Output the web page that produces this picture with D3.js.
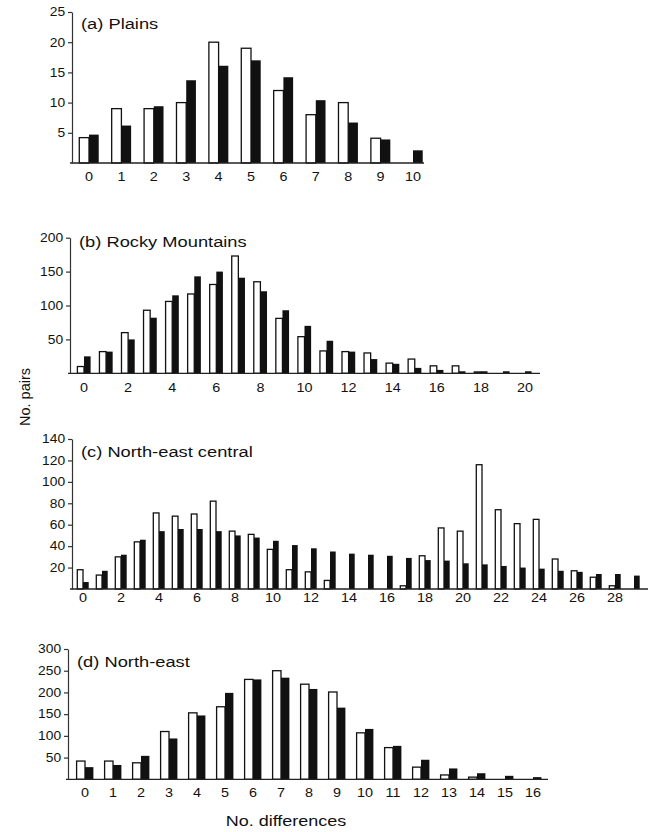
<!DOCTYPE html>
<html>
<head>
<meta charset="utf-8">
<script src="https://cdn.jsdelivr.net/npm/d3@7"></script>
<style>
body { margin: 0; background: #fff; }
text { fill: #111; }
</style>
</head>
<body>
<div id="chart"></div>
<script>
// (a) Plains
const plainsCats = ["0", "1", "2", "3", "4", "5", "6", "7", "8", "9", "10"];
const plainsWhite = [4.2, 9, 9, 10, 20, 19, 12, 8, 10, 4.1, 0];
const plainsBlack = [4.7, 6.2, 9.4, 13.7, 16.1, 17, 14.2, 10.4, 6.7, 3.9, 2.1];
const plainsYTicks = [5, 10, 15, 20, 25];
const plainsXTicks = ["0", "1", "2", "3", "4", "5", "6", "7", "8", "9", "10"];

// (b) Rocky Mountains
const rockyCats = ["0", "1", "2", "3", "4", "5", "6", "7", "8", "9", "10",
                   "11", "12", "13", "14", "15", "16", "17", "18", "19", "20"];
const rockyWhite = [10, 32, 60, 93, 106, 117, 131, 173, 135, 81, 54, 33, 32, 30, 15, 21, 11, 11, 2, 0, 0];
const rockyBlack = [25, 32, 50, 82, 115, 143, 150, 141, 121, 93, 70, 48, 32, 21, 14, 8, 5, 3, 3, 3, 3];
const rockyYTicks = [50, 100, 150, 200];
const rockyXTicks = ["0", "2", "4", "6", "8", "10", "12", "14", "16", "18", "20"];

// (c) North-east central
const necCats = ["0", "1", "2", "3", "4", "5", "6", "7", "8", "9", "10", "11", "12", "13", "14",
                 "15", "16", "17", "18", "19", "20", "21", "22", "23", "24", "25", "26", "27", "28", "29"];
const necWhite = [18, 13, 30, 44, 71, 68, 70, 82, 54, 51, 37, 18, 16, 8, 0,
                  0, 0, 3, 31, 57, 54, 116, 74, 61, 65, 28, 17, 11, 3, 0];
const necBlack = [6.5, 17, 32, 46, 54, 56, 56, 54, 50, 48, 45, 41, 38, 35, 33,
                  32, 31, 29, 27, 26.5, 24, 23, 21.5, 20, 19, 17, 16, 14, 14, 12.5];
const necYTicks = [20, 40, 60, 80, 100, 120, 140];
const necXTicks = ["0", "2", "4", "6", "8", "10", "12", "14", "16", "18", "20", "22", "24", "26", "28"];

// (d) North-east
const neCats = ["0", "1", "2", "3", "4", "5", "6", "7", "8", "9", "10", "11", "12", "13", "14", "15", "16"];
const neWhite = [42, 42, 38, 110, 153, 167, 230, 250, 219, 201, 107, 73, 28, 10, 5, 0, 0];
const neBlack = [28, 33, 54, 94, 147, 199, 230, 234, 208, 165, 116, 77, 45, 25, 14, 8, 5];
const neYTicks = [50, 100, 150, 200, 250, 300];
const neXTicks = ["0", "1", "2", "3", "4", "5", "6", "7", "8", "9", "10", "11", "12", "13", "14", "15", "16"];

const FONT = "'Liberation Sans', Arial, Helvetica, sans-serif";
const INK = "#111";

const svg = d3.select("#chart").append("svg")
    .attr("width", 653)
    .attr("height", 832)
    .style("font-family", FONT);

// panel placement (pixels)
const panels = [
    {title: "(a) Plains", cats: plainsCats, white: plainsWhite, black: plainsBlack,
     yTicks: plainsYTicks, xTicks: plainsXTicks, yMax: 25,
     top: 12, base: 163, axisX: 72, axisEnd: 424, c0: 89, step: 32.4, pad: 9.5, titleY: 29},
    {title: "(b) Rocky Mountains", cats: rockyCats, white: rockyWhite, black: rockyBlack,
     yTicks: rockyYTicks, xTicks: rockyXTicks, yMax: 200,
     top: 237.7, base: 373.3, axisX: 70, axisEnd: 540, c0: 84, step: 22.05, pad: 10, titleY: 247.3},
    {title: "(c) North-east central", cats: necCats, white: necWhite, black: necBlack,
     yTicks: necYTicks, xTicks: necXTicks, yMax: 140,
     top: 439, base: 589, axisX: 72, axisEnd: 648, c0: 83, step: 19, pad: 4.5, titleY: 456.7},
    {title: "(d) North-east", cats: neCats, white: neWhite, black: neBlack,
     yTicks: neYTicks, xTicks: neXTicks, yMax: 300,
     top: 649, base: 779.3, axisX: 68, axisEnd: 548, c0: 85, step: 28, pad: 9, titleY: 666.7}
];

panels.forEach(p => drawPanel(p));

function drawPanel(p) {
    let g = svg.append("g");
    let n = p.cats.length;

    // x scale: band centres sit at c0 + i*step
    let x = d3.scaleBand()
        .domain(p.cats)
        .range([p.c0 - p.step / 2, p.c0 + (n - 0.5) * p.step])
        .paddingInner(0.4)
        .paddingOuter(0.2);

    let y = d3.scaleLinear()
        .domain([0, p.yMax])
        .range([p.base, p.top]);

    let half = x.bandwidth() / 2;

    // white bars
    g.selectAll(".wbar")
        .data(p.cats.map((c, i) => ({c: c, v: p.white[i]})).filter(d => d.v > 0))
        .enter().append("rect")
        .attr("class", "wbar")
        .attr("x", d => x(d.c))
        .attr("y", d => y(d.v))
        .attr("width", half)
        .attr("height", d => p.base - y(d.v))
        .attr("fill", "#fff")
        .attr("stroke", INK)
        .attr("stroke-width", 1.3);

    // black bars
    g.selectAll(".bbar")
        .data(p.cats.map((c, i) => ({c: c, v: p.black[i]})).filter(d => d.v > 0))
        .enter().append("rect")
        .attr("class", "bbar")
        .attr("x", d => x(d.c) + half)
        .attr("y", d => y(d.v))
        .attr("width", half)
        .attr("height", d => p.base - y(d.v))
        .attr("fill", INK);

    // baseline
    g.append("line")
        .attr("x1", p.axisX - 2).attr("x2", p.axisEnd)
        .attr("y1", p.base).attr("y2", p.base)
        .attr("stroke", "#222")
        .attr("stroke-width", 1.3);

    // x axis labels
    let xAxis = d3.axisBottom(x)
        .tickValues(p.xTicks)
        .tickSize(0)
        .tickPadding(p.pad);
    let xg = g.append("g")
        .attr("transform", `translate(0, ${p.base})`)
        .call(xAxis);
    xg.select(".domain").remove();
    xg.selectAll("text")
        .attr("transform", "scale(1.2,1)")
        .style("font-family", FONT)
        .style("font-size", "12px")
        .attr("fill", INK);

    // y axis
    let yAxis = d3.axisLeft(y)
        .tickValues(p.yTicks)
        .tickSize(4)
        .tickSizeOuter(0)
        .tickPadding(2);
    let yg = g.append("g")
        .attr("transform", `translate(${p.axisX}, 0)`)
        .call(yAxis);
    yg.select(".domain")
        .attr("stroke", "#333")
        .attr("stroke-width", 1.2);
    yg.selectAll(".tick line")
        .attr("stroke", "#333")
        .attr("stroke-width", 1.2);
    yg.selectAll("text")
        .attr("transform", "scale(1.15,1)")
        .style("font-family", FONT)
        .style("font-size", "12px")
        .attr("fill", INK);

    // panel title
    g.append("text")
        .attr("transform", `translate(${p.axisX + 9}, ${p.titleY}) scale(1.22,1)`)
        .style("font-size", "15px")
        .text(p.title);
}

// Axis titles
svg.append("text")
    .attr("transform", "translate(30, 397) rotate(-90)")
    .attr("text-anchor", "middle")
    .style("font-size", "14.5px")
    .text("No. pairs");

svg.append("text")
    .attr("transform", "translate(286, 826) scale(1.2,1)")
    .attr("text-anchor", "middle")
    .style("font-size", "15px")
    .text("No. differences");
</script>
</body>
</html>
